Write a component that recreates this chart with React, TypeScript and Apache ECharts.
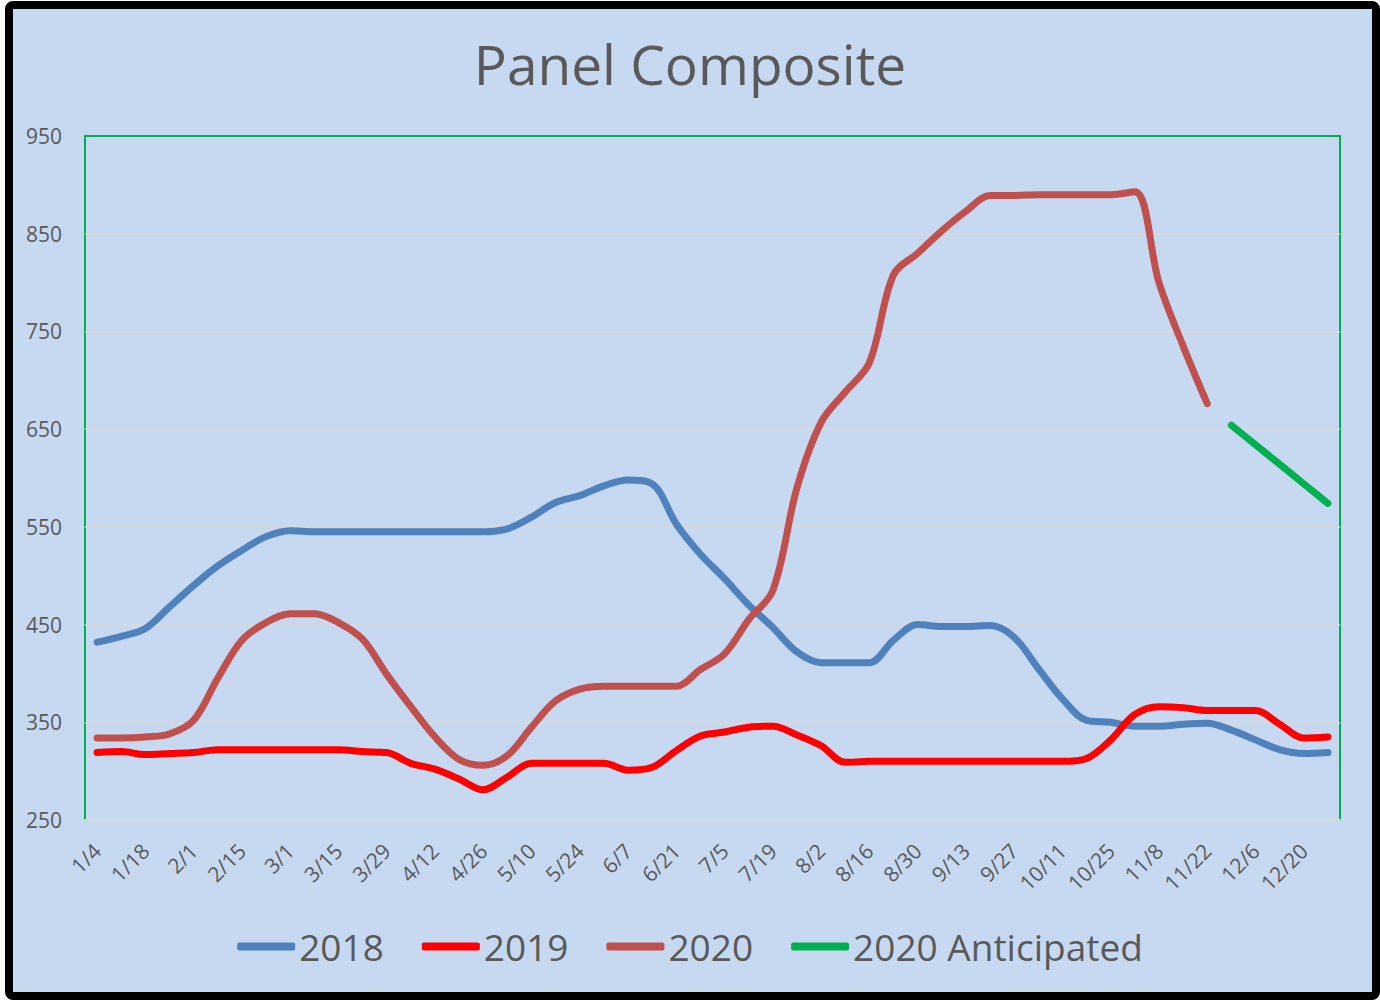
import React, { useEffect, useRef } from "react";
import * as echarts from "echarts";

const weeks: string[] = [
  "1/4", "1/11", "1/18", "1/25", "2/1", "2/8", "2/15", "2/22", "3/1", "3/8",
  "3/15", "3/22", "3/29", "4/5", "4/12", "4/19", "4/26", "5/3", "5/10", "5/17",
  "5/24", "5/31", "6/7", "6/14", "6/21", "6/28", "7/5", "7/12", "7/19", "7/26",
  "8/2", "8/9", "8/16", "8/23", "8/30", "9/6", "9/13", "9/20", "9/27", "10/4",
  "10/11", "10/18", "10/25", "11/1", "11/8", "11/15", "11/22", "11/29", "12/6", "12/13",
  "12/20", "12/27",
];

const y2018: number[] = [
  432, 438, 446, 468, 490, 510, 526, 540, 546, 545,
  545, 545, 545, 545, 545, 545, 545, 548, 560, 575,
  582, 592, 598, 594, 553, 522, 497, 470, 447, 422,
  411, 411, 411, 434, 450, 448, 448, 449, 437, 405,
  374, 352, 350, 346, 346, 348, 349, 342, 332, 322,
  318, 319,
];

const y2019: number[] = [
  319, 320, 317, 318, 319, 322, 322, 322, 322, 322,
  322, 320, 319, 308, 302, 292, 281, 294, 308, 308,
  308, 308, 301, 304, 321, 336, 340, 345, 346, 337,
  326, 309, 310, 310, 310, 310, 310, 310, 310, 310,
  310, 313, 332, 358, 366, 365, 362, 362, 362, 348,
  334, 335,
];

const y2020: (number | null)[] = [
  334, 334, 335, 338, 352, 395, 434, 452, 461, 461,
  452, 435, 399, 366, 335, 312, 306, 316, 345, 372,
  384, 387, 387, 387, 387, 404, 420, 455, 485, 590,
  657, 688, 718, 808, 830, 853, 873, 889, 889, 890,
  890, 890, 890, 893, 800, 735, 676, null, null, null,
  null, null,
];

const y2020Anticipated: (number | null)[] = [
  null, null, null, null, null, null, null, null, null, null,
  null, null, null, null, null, null, null, null, null, null,
  null, null, null, null, null, null, null, null, null, null,
  null, null, null, null, null, null, null, null, null, null,
  null, null, null, null, null, null, null, 654, 634, 614,
  594, 574,
];

const yTickLabels: number[] = [250, 350, 450, 550, 650, 750, 850, 950];
const gridValues: number[] = [350, 450, 550, 650, 750, 850];

const FONT = "'Open Sans', sans-serif";
const TXT = "#595959";

export default function App() {
  const ref = useRef<HTMLDivElement>(null);

  useEffect(() => {
    if (!ref.current) return;
    const chart = echarts.init(ref.current, undefined, { renderer: "svg" });
    const lineSeries = (name: string, data: (number | null)[], color: string, extra: any = {}) => ({
      name,
      type: "line",
      data,
      smooth: 0.35,
      showSymbol: false,
      symbol: "none",
      connectNulls: false,
      lineStyle: { color, width: 7, cap: "round", join: "round" },
      itemStyle: { color },
      z: 3,
      ...extra,
    });
    chart.setOption({
      animation: false,
      backgroundColor: "#ffffff",
      textStyle: { fontFamily: FONT },
      graphic: [
        {
          type: "rect",
          z: -100,
          silent: true,
          shape: { x: 9, y: 5, width: 1367, height: 991, r: 4 },
          style: { fill: "#C6D9F1", stroke: "#000000", lineWidth: 8 },
        },
      ],
      title: {
        text: "Panel Composite",
        left: "center",
        top: 31,
        textStyle: { fontFamily: FONT, fontSize: 55, fontWeight: "normal", color: TXT },
      },
      legend: {
        top: 923,
        left: "center",
        icon: "roundRect",
        itemWidth: 58,
        itemHeight: 8,
        itemGap: 38,
        textStyle: { fontFamily: FONT, fontSize: 37, color: TXT, padding: [0, 0, 0, -1] },
        data: ["2018", "2019", "2020", "2020 Anticipated"],
      },
      grid: {
        left: 85,
        right: 40,
        top: 136,
        bottom: 180,
        show: true,
        borderColor: "#00B050",
        borderWidth: 2,
        backgroundColor: "transparent",
        containLabel: false,
      },
      xAxis: {
        type: "category",
        data: weeks,
        boundaryGap: true,
        axisLine: { show: true, lineStyle: { color: "#D9D9D9", width: 2 } },
        axisTick: { show: false },
        axisLabel: {
          interval: 1,
          rotate: 45,
          margin: 27,
          fontFamily: FONT,
          fontSize: 21,
          color: TXT,
        },
        splitLine: { show: false },
      },
      yAxis: {
        type: "value",
        min: 250,
        max: 950,
        interval: 50,
        axisLine: { show: false },
        axisTick: { show: false },
        splitLine: { show: false },
        axisLabel: {
          margin: 23,
          fontFamily: FONT,
          fontSize: 21,
          color: TXT,
          formatter: (v: number) => (yTickLabels.includes(v) ? String(v) : ""),
        },
      },
      series: [
        lineSeries("2018", y2018, "#4F81BD", {
          markLine: {
            silent: true,
            z: 1,
            symbol: "none",
            label: { show: false },
            lineStyle: { color: "#D9D9D9", width: 1.5, type: "solid" },
            data: gridValues.map((v) => ({ yAxis: v })),
          },
        }),
        lineSeries("2019", y2019, "#FF0000"),
        lineSeries("2020", y2020, "#C0504D"),
        lineSeries("2020 Anticipated", y2020Anticipated, "#00B050"),
      ],
    });
    return () => chart.dispose();
  }, []);

  return (
    <div
      ref={ref}
      style={{ position: "absolute", left: 0, top: 0, width: 1380, height: 1000 }}
    />
  );
}
